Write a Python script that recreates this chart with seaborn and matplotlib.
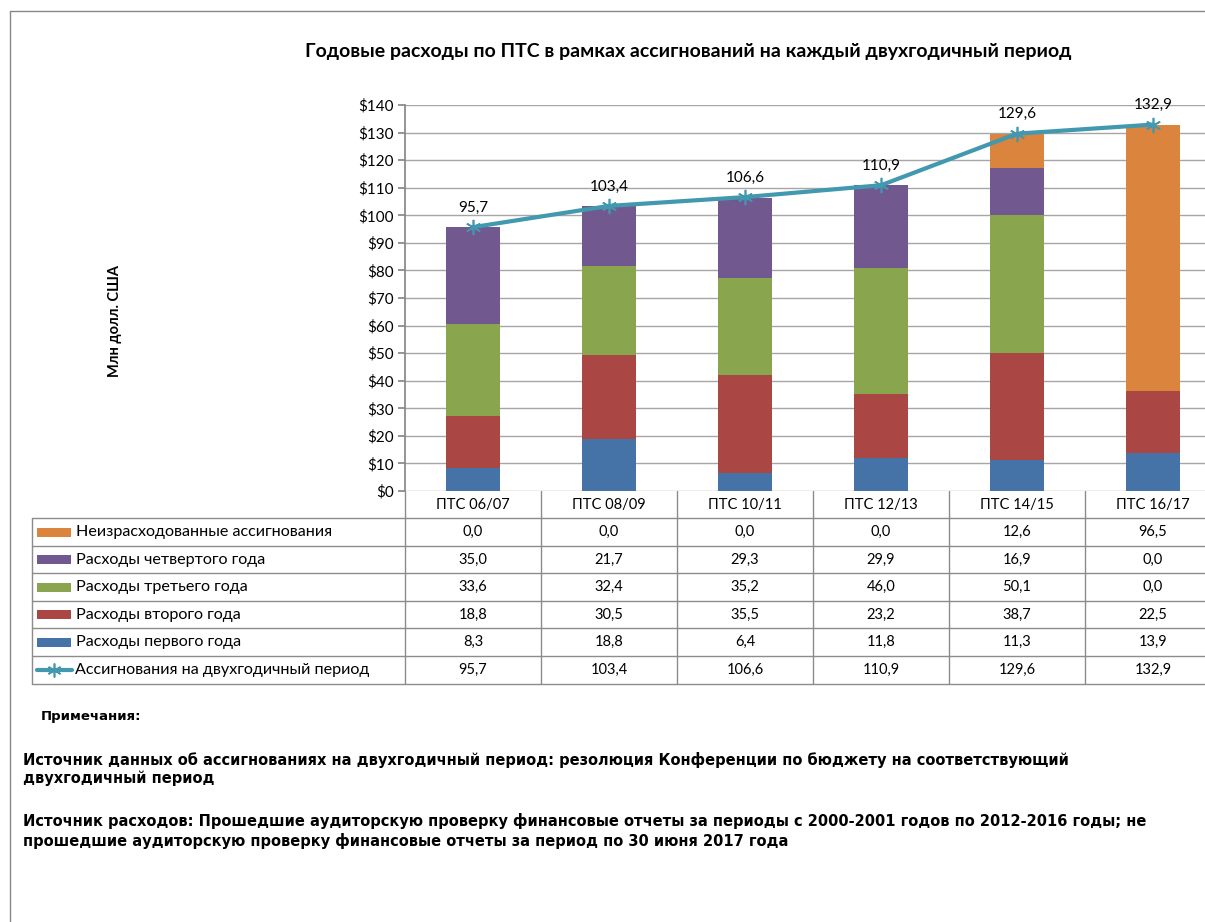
import numpy as np
import pandas as pd
import matplotlib
matplotlib.use("Agg")
import matplotlib.pyplot as plt
import seaborn as sns
from matplotlib.patches import Rectangle

# data
periods = ["ПТС 06/07", "ПТС 08/09", "ПТС 10/11", "ПТС 12/13", "ПТС 14/15", "ПТС 16/17"]
first_year = [8.3, 18.8, 6.4, 11.8, 11.3, 13.9]
second_year = [18.8, 30.5, 35.5, 23.2, 38.7, 22.5]
third_year = [33.6, 32.4, 35.2, 46.0, 50.1, 0.0]
fourth_year = [35.0, 21.7, 29.3, 29.9, 16.9, 0.0]
unspent = [0.0, 0.0, 0.0, 0.0, 12.6, 96.5]
appropriation = [95.7, 103.4, 106.6, 110.9, 129.6, 132.9]

series_names = ["Неизрасходованные ассигнования", "Расходы четвертого года",
                "Расходы третьего года", "Расходы второго года", "Расходы первого года"]
line_name = "Ассигнования на двухгодичный период"
title = "Годовые расходы по ПТС в рамках ассигнований на каждый двухгодичный период"
ylabel = "Млн долл. США"
yticks = [0, 10, 20, 30, 40, 50, 60, 70, 80, 90, 100, 110, 120, 130, 140]
notes_head = "Примечания:"
notes = ["Источник данных об ассигнованиях на двухгодичный период: резолюция Конференции по бюджету на соответствующий\nдвухгодичный период",
         "Источник расходов: Прошедшие аудиторскую проверку финансовые отчеты за периоды с 2000-2001 годов по 2012-2016 годы; не\nпрошедшие аудиторскую проверку финансовые отчеты за период по 30 июня 2017 года"]

colors = ["#DB843D", "#71588F", "#89A54E", "#AA4643", "#4572A7"]
line_color = "#4198AF"
grid_color = "#A6A6A6"

sns.set_theme(style="white")
plt.rcParams["font.family"] = ["Lato", "DejaVu Sans"]
plt.rcParams["text.color"] = "black"
plt.rcParams["ytick.color"] = "black"
plt.rcParams["xtick.color"] = "black"

W, H = 1205, 922
fig = plt.figure(figsize=(W / 100, H / 100), dpi=100)

def fx(x):
    return x / W

def fy(y):
    return 1 - y / H

# main plot area (right edge runs past the image like the reference)
x0, x1, ytop, ybot = 405, 1221, 105, 491
ax = fig.add_axes([fx(x0), fy(ybot), fx(x1 - x0), (ybot - ytop) / H])

df = pd.DataFrame({"period": periods, "first": first_year, "second": second_year,
                   "third": third_year, "fourth": fourth_year, "unspent": unspent})
layers = ["first", "second", "third", "fourth", "unspent"]
cum = df[layers].cumsum(axis=1)
# draw cumulative totals from top layer down so they stack
for name, col in zip(layers[::-1], colors):
    sns.barplot(x=np.arange(len(periods)), y=cum[name].values, color=col,
                width=0.4, ax=ax, native_scale=True, saturation=1, linewidth=0)

sns.lineplot(x=np.arange(len(periods)), y=appropriation, ax=ax, color=line_color,
             lw=3, marker=(6, 2, 0), markersize=11, markeredgecolor=line_color,
             markeredgewidth=1.2, zorder=5)
for i, v in enumerate(appropriation):
    ax.annotate(f"{v:.1f}".replace(".", ","), (i, v), xytext=(0, 9),
                textcoords="offset points", ha="center", va="bottom", fontsize=11)

ax.set_xlim(-0.5, len(periods) - 0.5)
ax.set_ylim(0, 140)
ax.set_yticks(yticks)
ax.set_yticklabels([f"${t}" for t in yticks], fontsize=11)
ax.set_xticks([])
ax.set_xlabel("")
ax.yaxis.grid(True, color=grid_color, lw=1)
ax.set_axisbelow(True)
for s in ["top", "right", "bottom"]:
    ax.spines[s].set_visible(False)
ax.spines["left"].set_color("#888888")
ax.tick_params(axis="y", length=5, color="#888888", labelcolor="black", left=True, pad=3)

# overlay in pixel coordinates for table, title, notes, frame
ov = fig.add_axes([0, 0, 1, 1], zorder=10)
ov.set_xlim(0, W)
ov.set_ylim(H, 0)
ov.axis("off")
ov.patch.set_alpha(0)

ov.plot([10, 10, W], [H, 11, 11], color="#888888", lw=1)

ov.text(688, 52, title, ha="center", va="center", fontsize=14, fontweight="bold")
ov.text(115, 321, ylabel, ha="center", va="center", rotation=90, fontsize=10.5, fontweight="bold")

# data table
tcol = "#8C8C8C"
row_edges = [491, 518, 546, 573, 601, 628, 656, 684]
col_w = (x1 - x0) / len(periods)
col_edges = [x0 + i * col_w for i in range(len(periods) + 1)]
for y in row_edges[1:]:
    ov.plot([32, x1], [y, y], color=tcol, lw=1)
for x in col_edges:
    ov.plot([x, x], [row_edges[0], row_edges[-1]], color=tcol, lw=1)
ov.plot([32, 32], [row_edges[1], row_edges[-1]], color=tcol, lw=1)

for i, p in enumerate(periods):
    cx = col_edges[i] + col_w / 2
    ov.text(cx, (row_edges[0] + row_edges[1]) / 2, p, ha="center", va="center", fontsize=10.5)

table_rows = [unspent, fourth_year, third_year, second_year, first_year, appropriation]
row_labels = series_names + [line_name]
for r, (lab, vals) in enumerate(zip(row_labels, table_rows)):
    cy = (row_edges[r + 1] + row_edges[r + 2]) / 2
    if r < 5:
        ov.add_patch(Rectangle((37, cy - 4.5), 34, 9, color=colors[r], lw=0))
        tx = 76
    else:
        ov.plot([37, 72], [cy, cy], color=line_color, lw=3)
        ov.plot([54], [cy], marker=(6, 2, 0), markersize=10, color=line_color, mew=1.2)
        tx = 75
    ov.text(tx, cy, lab, ha="left", va="center", fontsize=11.6)
    for i, v in enumerate(vals):
        cx = col_edges[i] + col_w / 2
        ov.text(cx, cy, f"{v:.1f}".replace(".", ","), ha="center", va="center", fontsize=10.5)

# notes
nf = ["DejaVu Sans"]
ov.text(41, 716, notes_head, ha="left", va="center", fontsize=9.5, fontweight="bold", family=nf)
ov.text(23, 769, notes[0], ha="left", va="center", fontsize=10.5, fontweight="bold",
        family=nf, linespacing=1.25)
ov.text(23, 831, notes[1], ha="left", va="center", fontsize=10.5, fontweight="bold",
        family=nf, linespacing=1.25)

fig.savefig("out.png", dpi=100)
